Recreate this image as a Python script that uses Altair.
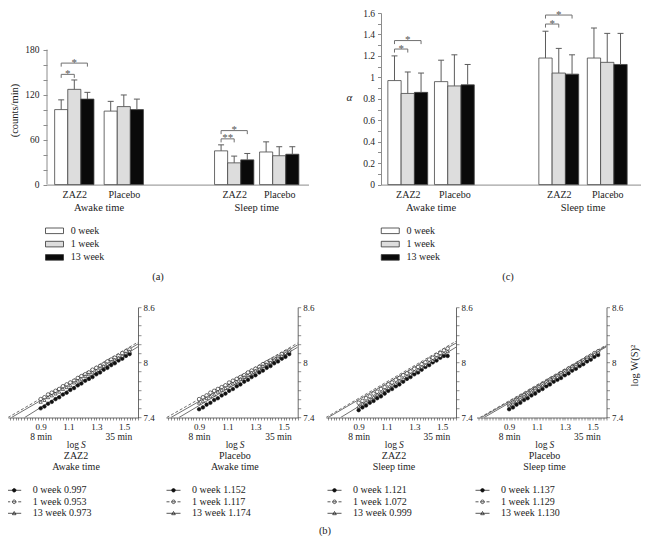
import altair as alt
import pandas as pd

FONT = "Liberation Serif"
AX = "#8c8c8c"
INK = "#1c1c1c"

# ------------------------------------------------------------------ data
WEEKS = ["0 week", "1 week", "13 week"]
BAR_FILLS = ["#ffffff", "#dddddd", "#0a0a0a"]
GROUP_DRUG = ["ZAZ2", "Placebo", "ZAZ2", "Placebo"]
PERIODS = ["Awake time", "Sleep time"]

# (a) activity (counts/min): ZAZ2-awake, Placebo-awake, ZAZ2-sleep, Placebo-sleep
act_0wk = [100, 98, 45, 43.5]
act_1wk = [127, 104, 29, 38.5]
act_13wk = [114, 100, 33, 40.5]
act_sd_0wk = [13, 13, 8, 13.5]
act_sd_1wk = [12.5, 15.5, 9, 12]
act_sd_13wk = [9, 14, 8.5, 10]
act_tick_labels = [0, 60, 120, 180]
# significance: (group, from week, to week, bracket level, mark)
act_sig = [(0, 0, 1, 147, "*"), (0, 0, 2, 162, "*"), (2, 0, 1, 61, "**"), (2, 0, 2, 72, "*")]

# (c) alpha
alpha_0wk = [0.97, 0.96, 1.18, 1.18]
alpha_1wk = [0.85, 0.92, 1.04, 1.14]
alpha_13wk = [0.86, 0.93, 1.03, 1.12]
alpha_sd_0wk = [0.23, 0.20, 0.25, 0.28]
alpha_sd_1wk = [0.20, 0.29, 0.23, 0.27]
alpha_sd_13wk = [0.18, 0.19, 0.18, 0.29]
alpha_sig = [(0, 0, 1, 1.264, "*"), (0, 0, 2, 1.343, "*"), (2, 0, 1, 1.497, "*"), (2, 0, 2, 1.581, "*")]

# (b) log W(S)^2 against log S
log_s = [0.900, 0.927, 0.953, 0.980, 1.007, 1.033, 1.060, 1.087, 1.113, 1.140, 1.167, 1.193, 1.220,
         1.247, 1.273, 1.300, 1.327, 1.353, 1.380, 1.407, 1.433, 1.460, 1.487, 1.513, 1.540]
b_x_labels = [0.9, 1.1, 1.3, 1.5]
b_y_labels = [7.4, 8.0, 8.6]

zaz2_awake_0wk = [7.50, 7.52, 7.55, 7.57, 7.60, 7.62, 7.65, 7.67, 7.70, 7.72, 7.75, 7.77, 7.80,
                  7.82, 7.84, 7.87, 7.89, 7.92, 7.94, 7.97, 7.99, 8.02, 8.04, 8.07, 8.09]
zaz2_awake_1wk = [7.60, 7.62, 7.65, 7.67, 7.69, 7.71, 7.74, 7.76, 7.78, 7.80, 7.83, 7.85, 7.87,
                  7.89, 7.92, 7.94, 7.96, 7.98, 8.01, 8.03, 8.05, 8.07, 8.10, 8.12, 8.14]
zaz2_awake_13wk = [7.57, 7.59, 7.62, 7.64, 7.66, 7.68, 7.71, 7.73, 7.75, 7.78, 7.80, 7.82, 7.85,
                   7.87, 7.89, 7.91, 7.94, 7.96, 7.98, 8.01, 8.03, 8.05, 8.07, 8.10, 8.12]
placebo_awake_0wk = [7.49, 7.51, 7.54, 7.56, 7.59, 7.61, 7.64, 7.66, 7.69, 7.71, 7.74, 7.76, 7.79,
                     7.81, 7.84, 7.86, 7.89, 7.91, 7.94, 7.96, 7.99, 8.01, 8.04, 8.06, 8.09]
placebo_awake_1wk = [7.60, 7.62, 7.64, 7.67, 7.69, 7.71, 7.73, 7.75, 7.78, 7.80, 7.82, 7.84, 7.86,
                     7.89, 7.91, 7.93, 7.95, 7.98, 8.00, 8.02, 8.04, 8.06, 8.09, 8.11, 8.13]
placebo_awake_13wk = [7.56, 7.58, 7.61, 7.63, 7.65, 7.68, 7.70, 7.72, 7.75, 7.77, 7.79, 7.82, 7.84,
                      7.86, 7.89, 7.91, 7.93, 7.96, 7.98, 8.00, 8.03, 8.05, 8.07, 8.10, 8.12]
zaz2_sleep_0wk = [7.48, 7.51, 7.53, 7.56, 7.58, 7.61, 7.63, 7.66, 7.69, 7.71, 7.74, 7.76, 7.79,
                  7.82, 7.84, 7.87, 7.89, 7.92, 7.95, 7.97, 8.00, 8.02, 8.05, 8.07, 8.07]
zaz2_sleep_1wk = [7.56, 7.58, 7.61, 7.63, 7.66, 7.68, 7.71, 7.73, 7.76, 7.78, 7.81, 7.83, 7.86,
                  7.88, 7.90, 7.93, 7.95, 7.98, 8.00, 8.03, 8.05, 8.08, 8.10, 8.13, 8.15]
zaz2_sleep_13wk = [7.52, 7.55, 7.57, 7.60, 7.62, 7.65, 7.67, 7.70, 7.72, 7.75, 7.77, 7.80, 7.82,
                   7.85, 7.87, 7.90, 7.92, 7.95, 7.97, 8.00, 8.02, 8.05, 8.07, 8.10, 8.12]
placebo_sleep_0wk = [7.49, 7.51, 7.54, 7.56, 7.59, 7.61, 7.64, 7.66, 7.69, 7.71, 7.74, 7.76, 7.79,
                     7.81, 7.83, 7.86, 7.88, 7.91, 7.93, 7.96, 7.98, 8.01, 8.03, 8.06, 8.08]
placebo_sleep_1wk = [7.54, 7.56, 7.59, 7.61, 7.64, 7.66, 7.69, 7.71, 7.73, 7.76, 7.78, 7.81, 7.83,
                     7.85, 7.88, 7.90, 7.93, 7.95, 7.97, 8.00, 8.02, 8.05, 8.07, 8.10, 8.12]
placebo_sleep_13wk = [7.53, 7.55, 7.58, 7.60, 7.63, 7.65, 7.68, 7.70, 7.72, 7.75, 7.77, 7.80, 7.82,
                      7.84, 7.87, 7.89, 7.92, 7.94, 7.96, 7.99, 8.01, 8.04, 8.06, 8.09, 8.11]

# fitted lines: (log S start, value start, log S end, value end) for 0, 1, 13 week
zaz2_awake_fit = [(0.785, 7.40, 1.60, 8.17), (0.665, 7.40, 1.60, 8.22), (0.690, 7.40, 1.60, 8.20)]
placebo_awake_fit = [(0.757, 7.40, 1.60, 8.165), (0.670, 7.40, 1.60, 8.21), (0.700, 7.40, 1.60, 8.19)]
zaz2_sleep_fit = [(0.770, 7.40, 1.60, 8.165), (0.665, 7.40, 1.60, 8.23), (0.680, 7.40, 1.60, 8.21)]
placebo_sleep_fit = [(0.720, 7.40, 1.60, 8.17), (0.690, 7.40, 1.60, 8.19), (0.700, 7.40, 1.60, 8.18)]

zaz2_awake_alpha = [0.997, 0.953, 0.973]
placebo_awake_alpha = [1.152, 1.117, 1.174]
zaz2_sleep_alpha = [1.121, 1.072, 0.999]
placebo_sleep_alpha = [1.137, 1.129, 1.130]

# ------------------------------------------------------------------ helpers
def ternary(values, names):
    expr = "''"
    for v, n in reversed(list(zip(values, names))):
        expr = f"abs(datum.value - {v}) < 0.001 ? '{n}' : ({expr})"
    return expr


def text_layer(lab, x=None, y=None, X=None, **kw):
    enc = dict(text="lab:N", y=alt.value(y))
    if X is not None:
        df = pd.DataFrame(dict(x=[x], lab=[lab]))
        enc["x"] = X("x")
    else:
        df = pd.DataFrame(dict(lab=[lab]))
        enc["x"] = alt.value(x)
    style = dict(color=INK, baseline="middle")
    style.update(kw)
    return alt.Chart(df).mark_text(**style).encode(**enc)


def bar_panel(means, sds, sig, pos, xdom, bw, cap, leg, ydom, yaxis, width, height,
              legend_x, tag, tag_x, axis_top=None):
    rows = []
    for wi, wk in enumerate(WEEKS):
        for gi in range(4):
            xc = pos[gi] + (wi - 1) * bw
            rows.append(dict(week=wk, xc=xc, x0=xc - bw / 2, x1=xc + bw / 2,
                             cl=xc - cap, cr=xc + cap, v=means[wi][gi],
                             top=means[wi][gi] + sds[wi][gi], zero=0))
    bdf = pd.DataFrame(rows)
    hb, lg, st = [], [], []
    for gi, wa, wb, lvl, lab in sig:
        xa = pos[gi] + (wa - 1) * bw
        xb = pos[gi] + (wb - 1) * bw
        hb.append(dict(xa=xa, xb=xb, yl=lvl))
        lg.append(dict(xl=xa, ya=lvl, yb=lvl - leg))
        lg.append(dict(xl=xb, ya=lvl, yb=lvl - leg))
        st.append(dict(xm=(xa + xb) / 2, yl=lvl, lab=lab))

    xs = alt.Scale(domain=xdom, nice=False, zero=False)
    ys = alt.Scale(domain=ydom, nice=False, zero=False)
    xaxis = alt.Axis(values=pos, labelExpr=ternary(pos, GROUP_DRUG), ticks=False,
                     domainColor=AX, labelFontSize=10, labelPadding=5, labelFlush=False,
                     labelOverlap=False, labelColor=INK, title=None, grid=False)

    def X(f):
        return alt.X(f"{f}:Q", scale=xs, axis=xaxis)

    def Y(f):
        return alt.Y(f"{f}:Q", scale=ys, axis=yaxis)

    legend = alt.Legend(orient="none", legendX=legend_x, legendY=212.8, title=None,
                        symbolType="M-9,-2.8H9V2.8H-9Z", symbolSize=4,
                        symbolStrokeColor="#333333", symbolStrokeWidth=0.8, symbolOpacity=1,
                        labelFontSize=10, labelOffset=11.2, rowPadding=3.3, padding=0,
                        labelColor=INK)
    bars = alt.Chart(bdf).mark_bar(stroke="#454545", strokeWidth=0.8).encode(
        x=X("x0"), x2="x1", y=Y("v"), y2="zero",
        fill=alt.Fill("week:N", scale=alt.Scale(domain=WEEKS, range=BAR_FILLS), legend=legend))
    err = alt.Chart(bdf).mark_rule(color="#5c5c5c", strokeWidth=1).encode(
        x=X("xc"), y=Y("v"), y2="top")
    caps = alt.Chart(bdf).mark_rule(color="#5c5c5c", strokeWidth=1).encode(
        x=X("cl"), x2="cr", y=Y("top"))
    brk = alt.Chart(pd.DataFrame(hb)).mark_rule(color="#707070", strokeWidth=1).encode(
        x=X("xa"), x2="xb", y=Y("yl"))
    legs = alt.Chart(pd.DataFrame(lg)).mark_rule(color="#707070", strokeWidth=1).encode(
        x=X("xl"), y=Y("ya"), y2="yb")
    stars = alt.Chart(pd.DataFrame(st)).mark_text(fontSize=11, baseline="alphabetic", dy=2.5,
                                                  color="#555555").encode(
        x=X("xm"), y=Y("yl"), text="lab:N")
    layers = [bars, err, caps, brk, legs, stars,
              text_layer(PERIODS[0], (pos[0] + pos[1]) / 2, 195, X, fontSize=10.5),
              text_layer(PERIODS[1], (pos[2] + pos[3]) / 2, 195, X, fontSize=10.5),
              text_layer(tag, tag_x, 264, fontSize=10.5)]
    if axis_top is not None:
        line = alt.Chart(pd.DataFrame(dict(xa=[xdom[0]], y0=[0], y1=[axis_top]))).mark_rule(
            color=AX).encode(x=X("xa"), y=Y("y0"), y2="y1")
        layers.insert(0, line)
    return alt.layer(*layers).properties(width=width, height=height)


B_XDOM = [0.665, 1.6]
B_YDOM = [7.4, 8.6]
B_XTICKS = [round(0.68 + 0.02 * i, 2) for i in range(47)]
B_YTICKS = [round(7.4 + 0.1 * i, 1) for i in range(13)]
CIRCLE = "M-1.8,0A1.8,1.8,0,1,1,1.8,0A1.8,1.8,0,1,1,-1.8,0Z"
LEG_PATHS = [
    "M-7,0H7" + CIRCLE,
    "M-7,0H-4M4,0H7" + CIRCLE + "M-1.8,0H1.8",
    "M-7,0H7M-1.8,1.4L0,-1.8L1.8,1.4Z",
]
LEG_FILLS = ["#111111", "#ffffff", "#ffffff"]


def dfa_panel(series, fits, alphas, width, drug, period, legend_x, ytitle=False, tag=None):
    prow = []
    for wi, wk in enumerate(WEEKS):
        for x, y in zip(log_s, series[wi]):
            prow.append(dict(week=wk, x=x, y=y))
    pdf = pd.DataFrame(prow)
    fdf = pd.DataFrame([dict(week=wk, x0=f[0], y0=f[1], x1=f[2], y1=f[3])
                        for wk, f in zip(WEEKS, fits)])
    px = width / (B_XDOM[1] - B_XDOM[0])
    xmid = (B_XDOM[0] + B_XDOM[1]) / 2

    xs = alt.Scale(domain=B_XDOM, nice=False, zero=False)
    ys = alt.Scale(domain=B_YDOM, nice=False, zero=False)
    xaxis = alt.Axis(values=B_XTICKS,
                     labelExpr=f"indexof({b_x_labels}, round(datum.value*100)/100) >= 0 ? format(datum.value, '.1f') : ''",
                     tickSize=2.5, tickWidth=0.6, tickColor="#444444", domainColor="#444444",
                     domainWidth=0.8, labelFontSize=9, labelPadding=2, labelFlush=False,
                     labelOverlap=False, labelColor=INK, title=None, grid=False)
    ykw = dict(orient="right", values=B_YTICKS,
               labelExpr=f"indexof({b_y_labels}, round(datum.value*10)/10) >= 0 ? format(datum.value, '~g') : ''",
               tickSize=3, tickWidth=0.6, tickColor="#444444", domainColor="#444444",
               domainWidth=0.8, labelFontSize=9, labelPadding=2, labelFlush=False,
               labelOverlap=False, labelColor=INK, grid=False)
    if ytitle:
        ykw.update(title="log W(S)²", titleAngle=270, titleX=28, titleY=58,
                   titleAlign="center", titleBaseline="middle", titleFontSize=10.5,
                   titleColor=INK)
    else:
        ykw.update(title=None)
    yaxis = alt.Axis(**ykw)

    def X(f):
        return alt.X(f"{f}:Q", scale=xs, axis=xaxis)

    def Y(f):
        return alt.Y(f"{f}:Q", scale=ys, axis=yaxis)

    solid = alt.Chart(fdf).transform_filter("datum.week !== '1 week'").mark_rule(
        color="#111111", strokeWidth=0.6, clip=True).encode(x=X("x0"), x2="x1", y=Y("y0"), y2="y1")
    dashed = alt.Chart(fdf).transform_filter("datum.week === '1 week'").mark_rule(
        color="#111111", strokeWidth=0.6, strokeDash=[3, 2], clip=True).encode(
        x=X("x0"), x2="x1", y=Y("y0"), y2="y1")
    styles = [dict(shape="circle", fill="#111111", size=13),
              dict(shape="circle", fill="#ffffff", size=13),
              dict(shape="triangle-up", fill="#ffffff", size=11)]
    pts = []
    for wk, kw in zip(WEEKS, styles):
        pts.append(alt.Chart(pdf).transform_filter(f"datum.week === '{wk}'").mark_point(
            filled=True, opacity=1, stroke="#111111", strokeWidth=0.6, **kw).encode(
            x=X("x"), y=Y("y")))

    labels = [f"{wk} {a:.3f}" for wk, a in zip(WEEKS, alphas)]
    leg = alt.Legend(orient="none", legendX=legend_x, legendY=178.1, title=None, symbolSize=4,
                     symbolStrokeColor="#111111", symbolStrokeWidth=0.7, symbolOpacity=1,
                     labelFontSize=10, labelOffset=13.6, rowPadding=1.5, padding=0, labelColor=INK)
    carrier = alt.Chart(pd.DataFrame(dict(lab=labels))).transform_filter("false").mark_point(
        filled=True, opacity=1, size=4, strokeWidth=0.7).encode(
        shape=alt.Shape("lab:N", scale=alt.Scale(domain=labels, range=LEG_PATHS), legend=leg),
        fill=alt.Fill("lab:N", scale=alt.Scale(domain=labels, range=LEG_FILLS), legend=leg),
        stroke=alt.Stroke("lab:N", scale=alt.Scale(domain=labels, range=["#111111"] * 3),
                          legend=leg))

    xl = xmid + 5 / px
    xt = xmid + 3 / px
    layers = [solid, dashed] + pts + [
        carrier,
        text_layer("8 min", 0.903, 129.5, X, fontSize=9.5),
        text_layer("35 min", 1.544, 129.5, X, fontSize=9.5, align="right", dx=2),
        text_layer("log", xl, 137.5, X, fontSize=9.5, align="right", dx=1),
        text_layer("S", xl, 137.5, X, fontSize=9.5, align="left", dx=3, fontStyle="italic"),
        text_layer(drug, xt, 149, X, fontSize=10),
        text_layer(period, xt, 160, X, fontSize=10),
    ]
    if tag:
        layers.append(text_layer(tag, -1, 224, fontSize=10.5))
    return alt.layer(*layers).properties(width=width, height=110.3)


def independent(c):
    return c.resolve_scale(x="independent", y="independent", fill="independent",
                           shape="independent", stroke="independent").resolve_legend(
        fill="independent", shape="independent", stroke="independent")


# ------------------------------------------------------------------ panels
A_POS = [0.0, 1.0, 3.23, 4.14]
C_POS = [0.0, 1.0, 3.24, 4.28]

a_yaxis = alt.Axis(values=list(range(0, 181, 20)),
                   labelExpr=f"indexof({act_tick_labels}, datum.value) >= 0 ? datum.label : ''",
                   domain=False, tickSize=4, tickColor=AX, labelFontSize=9.5, labelPadding=4,
                   labelColor=INK, labelOverlap=False, grid=False,
                   title="(counts/min)", titleX=-33, titleY=97, titleAngle=270,
                   titleAlign="center", titleBaseline="middle", titleFontSize=10.5,
                   titleColor=INK)
c_yaxis = alt.Axis(values=[round(0.1 * i, 1) for i in range(17)],
                   labelExpr="round(datum.value*10) % 2 === 0 ? format(datum.value, '~g') : ''",
                   domainColor=AX, tickSize=3.5, tickColor=AX, labelFontSize=9.5, labelPadding=3,
                   labelColor=INK, labelOverlap=False, grid=False,
                   title="α", titleX=-32, titleY=84, titleAngle=0, titleAlign="center",
                   titleBaseline="middle", titleFontSize=11, titleFontStyle="italic",
                   titleColor=INK)

panel_a = bar_panel([act_0wk, act_1wk, act_13wk], [act_sd_0wk, act_sd_1wk, act_sd_13wk], act_sig,
                    A_POS, [-0.5515, 4.7313], 0.2646, 0.0606, 4.7, [0, 228.8], a_yaxis,
                    261.5, 171.6, 2.5, "(a)", 111, axis_top=180)
panel_c = bar_panel([alpha_0wk, alpha_1wk, alpha_13wk],
                    [alpha_sd_0wk, alpha_sd_1wk, alpha_sd_13wk], alpha_sig,
                    C_POS, [-0.5745, 4.9936], 0.285, 0.064, 0.033, [0, 1.6], c_yaxis,
                    259.5, 171.6, 4.25, "(c)", 127)

p1 = dfa_panel([zaz2_awake_0wk, zaz2_awake_1wk, zaz2_awake_13wk], zaz2_awake_fit, zaz2_awake_alpha,
               130, "ZAZ2", "Awake time", 1.2)
p2 = dfa_panel([placebo_awake_0wk, placebo_awake_1wk, placebo_awake_13wk], placebo_awake_fit,
               placebo_awake_alpha, 131.7, "Placebo", "Awake time", 2.5)
p3 = dfa_panel([zaz2_sleep_0wk, zaz2_sleep_1wk, zaz2_sleep_13wk], zaz2_sleep_fit, zaz2_sleep_alpha,
               130, "ZAZ2", "Sleep time", 3.5, tag="(b)")
p4 = dfa_panel([placebo_sleep_0wk, placebo_sleep_1wk, placebo_sleep_13wk], placebo_sleep_fit,
               placebo_sleep_alpha, 130, "Placebo", "Sleep time", 1.0, ytitle=True)

# an empty 1-px cell so that the (a)/(c) row keeps its left axis text inside the page
lead = alt.Chart(pd.DataFrame(dict(d=[]))).mark_point(size=0, opacity=0).encode(
    x=alt.value(0), y=alt.value(0)).properties(width=1, height=1)

top_inner = independent(alt.hconcat(panel_a, panel_c, spacing=72, bounds="flush"))
top = independent(alt.hconcat(lead, top_inner, spacing=0))
inner = independent(alt.hconcat(p1, p2, p3, spacing=28, bounds="flush"))
bottom = independent(alt.hconcat(inner, p4, spacing=3.5))
chart = independent(alt.vconcat(top, bottom, spacing=20.2)).properties(padding=0)

chart = (chart.configure(font=FONT)
         .configure_view(stroke=None)
         .configure_axis(labelFont=FONT, titleFont=FONT, titleFontWeight="normal")
         .configure_legend(labelFont=FONT)
         .configure_text(font=FONT))

chart.save("out.html", embed_options={"renderer": "svg", "actions": False})
